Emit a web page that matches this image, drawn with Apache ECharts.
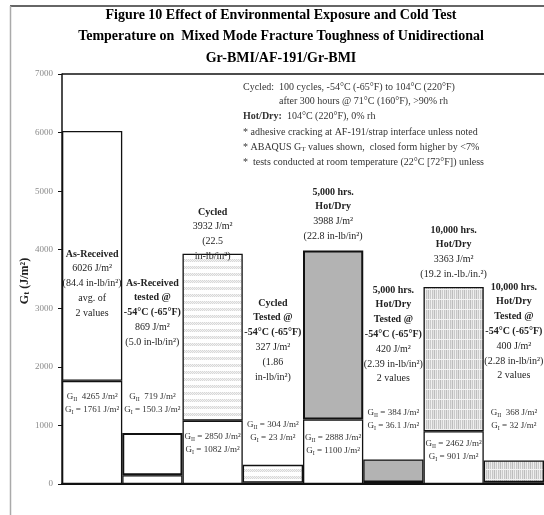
<!DOCTYPE html>
<html><head><meta charset="utf-8">
<script src="https://cdn.jsdelivr.net/npm/echarts@6/dist/echarts.min.js"></script>
<style>html,body{margin:0;padding:0;background:#fff}#c{width:544px;height:515px}</style>
</head><body><div id="c"></div>
<script>
// ---- data ----
const categories = ['As-Received', 'As-Received -54°C', 'Cycled', 'Cycled -54°C',
  '5,000 hrs Hot/Dry', '5,000 hrs Hot/Dry -54°C', '10,000 hrs Hot/Dry', '10,000 hrs Hot/Dry -54°C'];
const gI  = [1761, 150.3, 1082, 23, 1100, 36.1, 901, 32];
const gII = [4265, 719, 2850, 304, 2888, 384, 2462, 368];
const yTicks = [0, 1000, 2000, 3000, 4000, 5000, 6000, 7000];
const topLabels = [
  ['*As-Received', '6026 J/m²', '(84.4 in-lb/in²)', 'avg. of', '2 values'],
  ['*As-Received', '*tested @', '*-54°C (-65°F)', '869 J/m²', '(5.0 in-lb/in²)'],
  ['*Cycled', '3932 J/m²', '(22.5', 'in-lb/in²)'],
  ['*Cycled', '*Tested @', '*-54°C (-65°F)', '327 J/m²', '(1.86', 'in-lb/in²)'],
  ['*5,000 hrs.', '*Hot/Dry', '3988 J/m²', '(22.8 in-lb/in²)'],
  ['*5,000 hrs.', '*Hot/Dry', '*Tested @', '*-54°C (-65°F)', '420 J/m²', '(2.39 in-lb/in²)', '2 values'],
  ['*10,000 hrs.', '*Hot/Dry', '3363 J/m²', '(19.2 in.-lb./in.²)'],
  ['*10,000 hrs.', '*Hot/Dry', '*Tested @', '*-54°C (-65°F)', '400 J/m²', '(2.28 in-lb/in²)', '2 values']
];
const gSep = ['  ', '  ', ' = ', ' = ', ' = ', ' = ', ' = ', '  '];
const notes = [
  '{n|Cycled:  100 cycles, -54°C (-65°F) to 104°C (220°F)}',
  '{n|after 300 hours @ 71°C (160°F), >90% rh}',
  '{b|Hot/Dry:}{n|  104°C (220°F), 0% rh}',
  '{n|* adhesive cracking at AF-191/strap interface unless noted}',
  '{n|* ABAQUS G}{s|T}{n| values shown,  closed form higher by <7%}',
  '{n|*  tests conducted at room temperature (22°C [72°F]) unless}'
];
const titleLines = ['Figure 10 Effect of Environmental Exposure and Cold Test',
  'Temperature on  Mixed Mode Fracture Toughness of Unidirectional',
  'Gr-BMI/AF-191/Gr-BMI'];

// ---- layout / styles ----
const topStartY = [254, 283, 212, 303, 192, 290, 230, 287];
const gStartY = [397, 397, 437, 425, 438, 413, 444, 413];
const FONT = '"Liberation Serif", "DejaVu Serif", serif';

function dotPattern() {
  const c = document.createElement('canvas'); c.width = 4; c.height = 7;
  const x = c.getContext('2d'); x.fillStyle = '#fff'; x.fillRect(0, 0, 4, 7);
  for (let yy = 0; yy < 3; yy++) for (let xx = 0; xx < 4; xx++) {
    x.fillStyle = ((xx + yy) % 2 === 0) ? '#d8d8d8' : '#f3f3f3';
    x.fillRect(xx, yy, 1, 1);
  }
  return { image: c, repeat: 'repeat' };
}
function hatchPattern() {
  const c = document.createElement('canvas'); c.width = 6; c.height = 10;
  const x = c.getContext('2d');
  const cols = ['#c6c6c6', '#e2e2e2', '#bcbcbc', '#e8e8e8', '#cacaca', '#f0f0f0'];
  cols.forEach((col, i) => { x.fillStyle = col; x.fillRect(i, 0, 1, 10); });
  x.fillStyle = '#f2f2f2'; x.fillRect(0, 9, 6, 1);
  return { image: c, repeat: 'repeat' };
}
const DOT = dotPattern(), HATCH = hatchPattern(), GRAY = '#b3b3b3', WHITE = '#ffffff';
const lowerFill = [WHITE, WHITE, WHITE, DOT, WHITE, GRAY, WHITE, HATCH];
const upperFill = [WHITE, WHITE, DOT, DOT, GRAY, GRAY, HATCH, HATCH];
const upperBorderW = [1.3, 2, 1.3, 1.3, 2, 1.3, 1.3, 1.3];

const chart = echarts.init(document.getElementById('c'), null, { renderer: 'canvas' });

chart.setOption({
  animation: false,
  backgroundColor: '#fff',
  grid: { left: 62, top: 74, width: 488, height: 410 },
  xAxis: {
    type: 'category', data: categories,
    axisLine: { lineStyle: { color: '#111', width: 2 } },
    axisTick: { show: false }, axisLabel: { show: false }
  },
  yAxis: {
    type: 'value', min: 0, max: 7000, interval: 1000,
    axisLine: { show: true, lineStyle: { color: '#111', width: 1.5 } },
    axisTick: { show: true, length: 4, lineStyle: { color: '#111' } },
    splitLine: { show: false },
    axisLabel: { color: '#8a8a8a', fontSize: 9, fontFamily: FONT, margin: 9,
      formatter: v => (yTicks.indexOf(v) >= 0 ? String(v) : '') }
  },
  series: [
    { type: 'bar', stack: 'g', barCategoryGap: 0, name: 'GI',
      data: gI.map((v, i) => ({ value: v, itemStyle: { color: lowerFill[i], borderColor: '#111', borderWidth: 1.3 } })) },
    { type: 'bar', stack: 'g', barCategoryGap: 0, name: 'GII',
      data: gII.map((v, i) => ({ value: v, itemStyle: { color: upperFill[i], borderColor: '#111', borderWidth: upperBorderW[i] } })) }
  ]
});

// ---- annotations ----
const g = [];
g.push({ type: 'line', shape: { x1: 10, y1: 6, x2: 544, y2: 6 }, style: { stroke: '#333', lineWidth: 1.5 }, z: 10 });
g.push({ type: 'line', shape: { x1: 10.5, y1: 6, x2: 10.5, y2: 515 }, style: { stroke: '#aaa', lineWidth: 1.5 }, z: 10 });
g.push({ type: 'line', shape: { x1: 62, y1: 74, x2: 544, y2: 74 }, style: { stroke: '#111', lineWidth: 1.5 }, z: 10 });
titleLines.forEach((t, i) => g.push({ type: 'text', x: 281, y: 15 + i * 21.5, z: 10,
  style: { text: t, font: 'bold 14px ' + FONT, fill: '#000', align: 'center', verticalAlign: 'middle' } }));
g.push({ type: 'text', x: 25, y: 281, rotation: Math.PI / 2, z: 10,
  style: { text: '{a|G}{t|t}{a| (J/m²)}', align: 'center', verticalAlign: 'middle',
    rich: { a: { font: 'bold 12px ' + FONT, fill: '#222' }, t: { font: 'bold 9px ' + FONT, fill: '#222', padding: [4, 0, 0, 0] } } } });
const noteX = [243, 279, 243, 243, 243, 243];
const noteY = [87, 101, 116, 132, 147, 162];
notes.forEach((t, i) => g.push({ type: 'text', x: noteX[i], y: noteY[i], z: 10,
  style: { text: t, align: 'left', verticalAlign: 'middle',
    rich: { n: { font: '10px ' + FONT, fill: '#333' }, b: { font: 'bold 10px ' + FONT, fill: '#333' },
      s: { font: '7px ' + FONT, fill: '#333', padding: [4, 0, 0, 0] } } } }));
categories.forEach((c, i) => {
  const cx = chart.convertToPixel({ xAxisIndex: 0 }, i);
  topLabels[i].forEach((line, j) => {
    const bold = line[0] === '*';
    g.push({ type: 'text', x: cx, y: topStartY[i] + j * 14.8, z: 10,
      style: { text: bold ? line.slice(1) : line, font: (bold ? 'bold ' : '') + '10px ' + FONT,
        fill: '#222', align: 'center', verticalAlign: 'middle' } });
  });
  const rich = { g: { font: '9px ' + FONT, fill: '#333' }, s: { font: '6px ' + FONT, fill: '#333', padding: [4, 0, 0, 0] },
    n: { font: '9px ' + FONT, fill: '#333' } };
  g.push({ type: 'text', x: cx, y: gStartY[i], z: 10,
    style: { text: '{g|G}{s|II}{n|' + gSep[i] + gII[i] + ' J/m²}', align: 'center', verticalAlign: 'middle', rich } });
  g.push({ type: 'text', x: cx, y: gStartY[i] + 13, z: 10,
    style: { text: '{g|G}{s|I}{n| = ' + gI[i] + ' J/m²}', align: 'center', verticalAlign: 'middle', rich } });
});
chart.setOption({ graphic: { elements: g } });
</script></body></html>
